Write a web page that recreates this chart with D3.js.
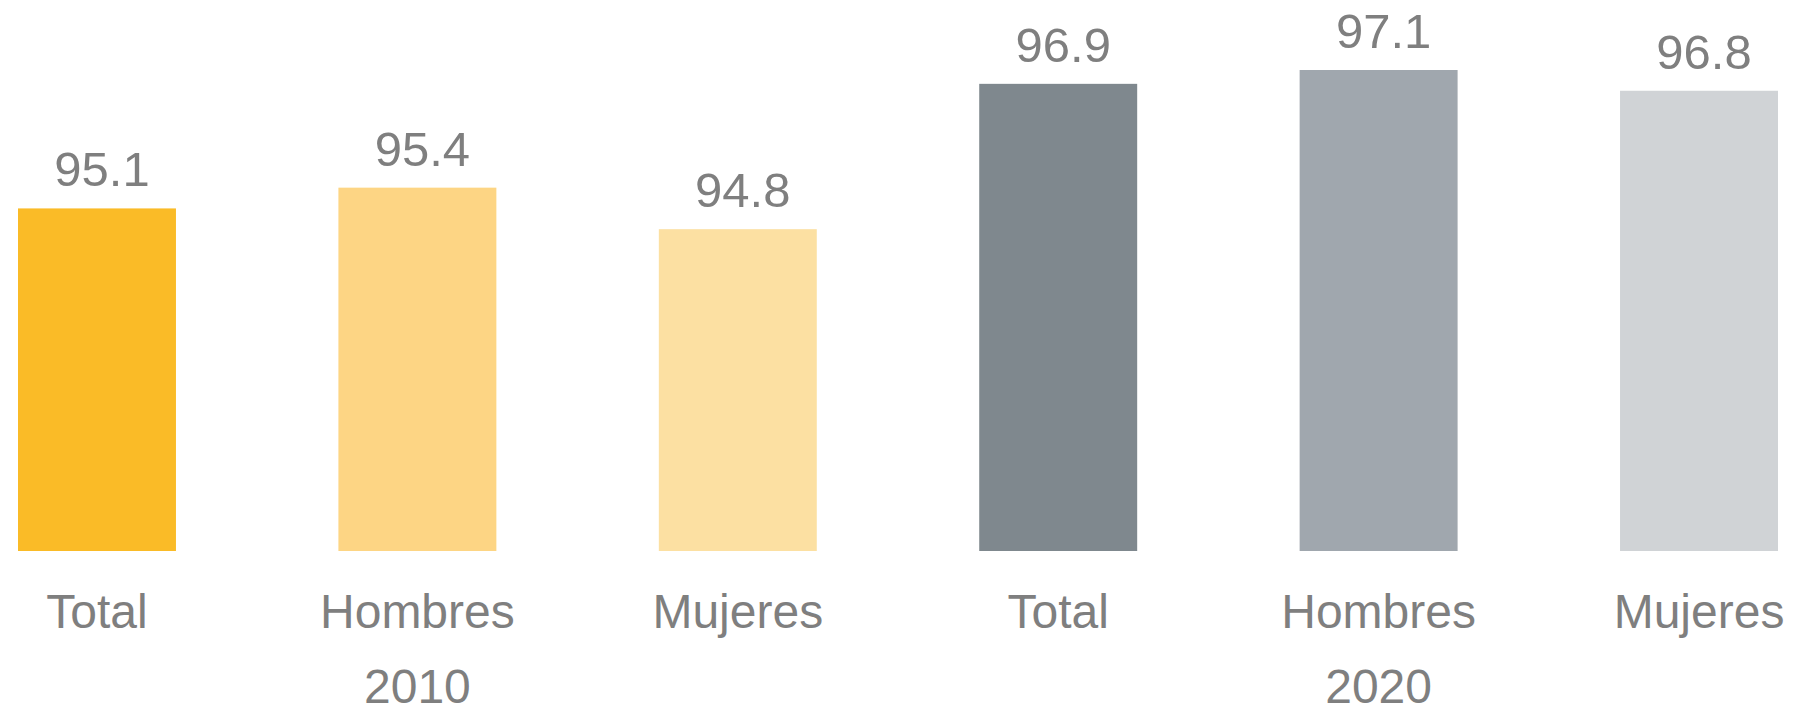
<!DOCTYPE html>
<html>
<head>
<meta charset="utf-8">
<script src="https://cdn.jsdelivr.net/npm/d3@7"></script>
<style>
  body { margin: 0; background: #fff; }
  text { font-family: "Liberation Sans", Arial, sans-serif; fill: #7f7f7f; }
</style>
</head>
<body>
<div id="chart"></div>
<script>
var categories = ['Total', 'Hombres', 'Mujeres', 'Total', 'Hombres', 'Mujeres'];
var years = ['2010', '2020'];
var values = [95.1, 95.4, 94.8, 96.9, 97.1, 96.8];
var barColors = ['#fabb27', '#fdd584', '#fce0a2', '#7f888e', '#a0a7ae', '#d0d3d6'];

var width = 1793,
    height = 715;

var xScale = d3.scaleBand()
    .domain(d3.range(values.length))
    .range([18, 1778])
    .paddingInner(0.507)
    .paddingOuter(0);

var yScale = d3.scaleLinear()
    .domain([90.15, 97.1])
    .range([551, 70]);

var svg = d3.select('#chart').append('svg')
    .attr('width', width)
    .attr('height', height);

svg.selectAll('rect').data(values)
  .enter().append('rect')
    .attr('x', function(d, i) { return xScale(i); })
    .attr('width', xScale.bandwidth())
    .attr('y', function(d) { return yScale(d); })
    .attr('height', function(d) { return yScale.range()[0] - yScale(d); })
    .style('fill', function(d, i) { return barColors[i]; });

// value labels
svg.selectAll('.val').data(values)
  .enter().append('text')
    .attr('class', 'val')
    .attr('x', function(d, i) { return xScale(i) + xScale.bandwidth() / 2 + 5; })
    .attr('y', function(d) { return yScale(d) - 22; })
    .attr('text-anchor', 'middle')
    .style('font-size', '49px')
    .text(function(d) { return d.toFixed(1); });

// category labels
svg.selectAll('.cat').data(categories)
  .enter().append('text')
    .attr('class', 'cat')
    .attr('x', function(d, i) { return xScale(i) + xScale.bandwidth() / 2; })
    .attr('y', 628)
    .attr('text-anchor', 'middle')
    .style('font-size', '48px')
    .text(function(d) { return d; });

// year labels, under the middle bar of each group
svg.selectAll('.year').data(years)
  .enter().append('text')
    .attr('class', 'year')
    .attr('x', function(d, i) { return xScale(i * 3 + 1) + xScale.bandwidth() / 2; })
    .attr('y', 703)
    .attr('text-anchor', 'middle')
    .style('font-size', '48px')
    .text(function(d) { return d; });
</script>
</body>
</html>
